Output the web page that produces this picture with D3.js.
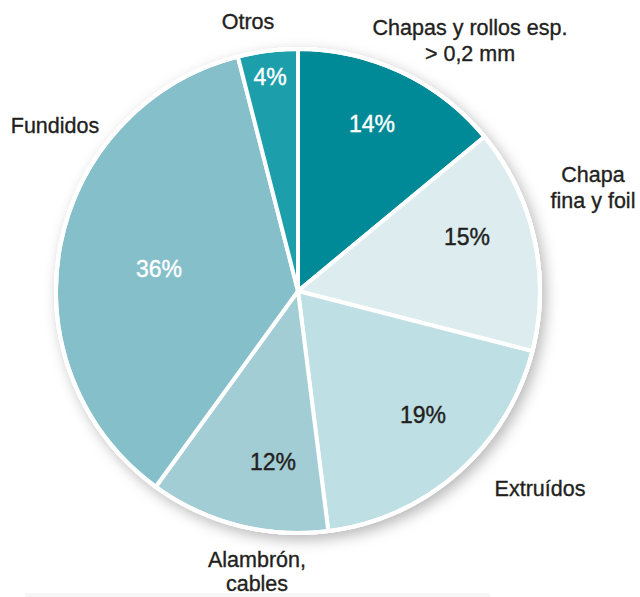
<!DOCTYPE html>
<html>
<head>
<meta charset="utf-8">
<script src="https://cdn.jsdelivr.net/npm/d3@7"></script>
<style>
  html, body { margin: 0; padding: 0; background: #fff; }
  svg { display: block; }
  text { font-family: "Liberation Sans", Arial, Helvetica, sans-serif; }
</style>
</head>
<body>
<svg id="chart" width="640" height="597"></svg>
<script>
// ---- data ----
const categories = ["Chapas y rollos esp.\n> 0,2 mm", "Chapa\nfina y foil", "Extruídos", "Alambrón,\ncables", "Fundidos", "Otros"];
const values = [14, 15, 19, 12, 36, 4];
const valueLabels = ["14%", "15%", "19%", "12%", "36%", "4%"];

// ---- style / layout (not data) ----
const colors = ["#008996", "#dcecef", "#bedfe3", "#a3cdd5", "#85bfc9", "#1c9fab"];
const pctColors = ["#ffffff", "#231f20", "#231f20", "#231f20", "#ffffff", "#ffffff"];
// percentage label offsets from center (text middle, baseline)
const pctOffsets = [[74, -159], [169, -46], [125, 132], [-25, 179], [-139, -14], [-28, -206]];
// category label offsets from center (text middle, first baseline)
const catOffsets = [[172, -256], [295, -109], [242, 205], [-41, 276], [-243, -158], [-50, -262]];
const lineGaps = [26, 26, 26, 24, 26, 26];

const W = 640, H = 597;
const cx = 298, cy = 291, R = 242;

const svg = d3.select("#chart");

const defs = svg.append("defs");
const f = defs.append("filter").attr("id", "shadow")
  .attr("x", "-20%").attr("y", "-20%").attr("width", "140%").attr("height", "140%");
f.append("feDropShadow").attr("dx", 4).attr("dy", 5).attr("stdDeviation", 7)
  .attr("flood-color", "#000").attr("flood-opacity", 0.28);

// faint bottom band
svg.append("rect").attr("x", 25).attr("y", 593).attr("width", 465).attr("height", 4)
  .attr("fill", "#f6f6f6");

const g = svg.append("g").attr("transform", `translate(${cx},${cy})`);

// shadow disc
g.append("circle").attr("r", R + 2).attr("fill", "#fff").attr("filter", "url(#shadow)");

const pie = d3.pie().sort(null).value(d => d);
const arcs = pie(values);
const arc = d3.arc().innerRadius(0).outerRadius(R);

g.selectAll("path.slice").data(arcs).enter().append("path")
  .attr("class", "slice")
  .attr("d", arc)
  .attr("fill", (d, i) => colors[i])
  .attr("stroke", "#fff")
  .attr("stroke-width", 4)
  .attr("stroke-linejoin", "round");

// outer white rim
g.append("circle").attr("r", R).attr("fill", "none").attr("stroke", "#fff").attr("stroke-width", 4);

// percentage labels
g.selectAll("text.pct").data(arcs).enter().append("text")
  .attr("class", "pct")
  .attr("x", (d, i) => pctOffsets[i][0])
  .attr("y", (d, i) => pctOffsets[i][1])
  .attr("text-anchor", "middle")
  .attr("font-size", 23)
  .attr("fill", (d, i) => pctColors[i])
  .attr("stroke", (d, i) => pctColors[i])
  .attr("stroke-width", 0.4)
  .text((d, i) => valueLabels[i]);

// category labels
const cat = g.selectAll("text.cat").data(arcs).enter().append("text")
  .attr("class", "cat")
  .attr("x", (d, i) => catOffsets[i][0])
  .attr("y", (d, i) => catOffsets[i][1])
  .attr("text-anchor", "middle")
  .attr("font-size", 21.5)
  .attr("fill", "#231f20")
  .attr("stroke", "#231f20")
  .attr("stroke-width", 0.35);
cat.each(function(d, i) {
  const lines = categories[i].split("\n");
  const t = d3.select(this);
  lines.forEach((ln, k) => {
    t.append("tspan")
      .attr("x", catOffsets[i][0])
      .attr("dy", k === 0 ? 0 : lineGaps[i])
      .text(ln);
  });
});
</script>
</body>
</html>
